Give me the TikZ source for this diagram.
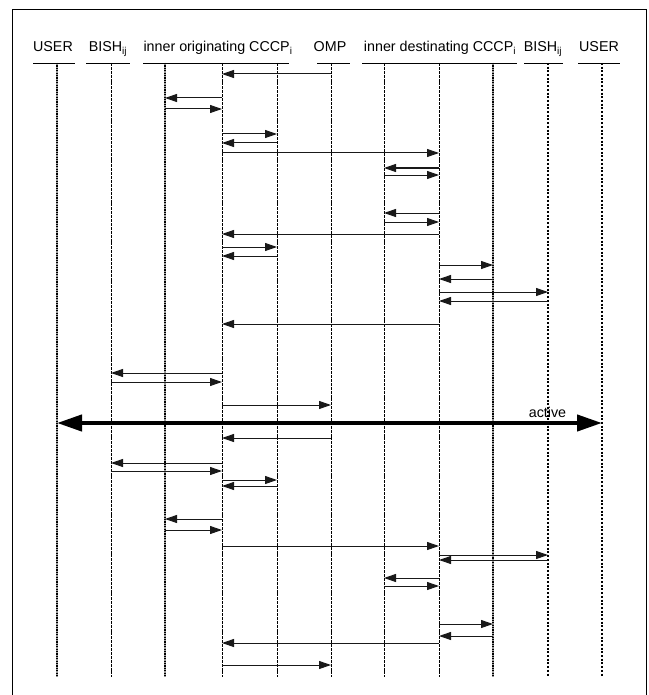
\documentclass[tikz,border=0pt]{standalone}
\usepackage{fontspec}
\setmainfont{Liberation Sans}
\usetikzlibrary{arrows.meta}
\begin{document}
\begin{tikzpicture}[x=1pt,y=-1pt,
  msg/.style={draw=black!90, line width=1pt, -{Triangle[length=12pt,width=8pt]}},
  bigmsg/.style={draw=black, line width=4.2pt, {Triangle[length=25pt,width=16pt]}-{Triangle[length=25pt,width=16pt]}},
  head/.style={anchor=base, inner sep=0pt, font=\fontsize{14.3}{16}\selectfont},
  hline/.style={line width=0.9pt},
  lgraybg/.style={line width=1.6pt, draw=black!40},
  lgray/.style={line width=1.6pt, draw=black, dash pattern=on 1.2pt off 1.2pt},
  lthin/.style={line width=1pt, draw=black, dash pattern=on 3pt off 0.9pt},
  lthick/.style={line width=2.2pt, draw=black, dash pattern=on 2pt off 1.7pt},
  frame/.style={line width=0.9pt}
]
\useasboundingbox (0,0) rectangle (648,695);
\draw[frame] (12,695) -- (12,9) -- (646,9) -- (646,695);

% headers
\node[head] (h1) at (53,52) {USER};
\node[head] (h2) at (108,52) {BISH\textsubscript{ij}};
\node[head] (h3) at (218,52) {inner originating CCCP\textsubscript{i}};
\node[head] (h4) at (330,52) {OMP};
\node[head] (h5) at (440,52) {inner destinating CCCP\textsubscript{i}};
\node[head] (h6) at (543,52) {BISH\textsubscript{ij}};
\node[head] (h7) at (599,52) {USER};

\draw[hline] (33,63) -- (75,63);
\draw[hline] (86,63) -- (130,63);
\draw[hline] (143,63) -- (289,63);
\draw[hline] (317,63) -- (350,63);
\draw[hline] (362,63) -- (517,63);
\draw[hline] (524,63) -- (563,63);
\draw[hline] (578,63) -- (620,63);

% lifelines
\coordinate (L1) at (57,63);
\coordinate (L2) at (111,63);
\coordinate (L3) at (165,63);
\coordinate (L4) at (222,63);
\coordinate (L5) at (277,63);
\coordinate (L6) at (331,63);
\coordinate (L7) at (384,63);
\coordinate (L8) at (439,63);
\coordinate (L9) at (493,63);
\coordinate (L10) at (548,63);
\coordinate (L11) at (602,63);

\foreach \k in {1,3,9}
  \draw[lgraybg] (L\k) -- (L\k |- 0,677);
\foreach \k/\s in {1/lgray,2/lthin,3/lgray,4/lthin,5/lthin,6/lthin,7/lthin,8/lthin,9/lgray,10/lthick,11/lthick}
  \draw[\s] (L\k) -- (L\k |- 0,677);

% messages
\foreach \a/\b/\y in {6/4/74, 4/3/98, 3/4/109, 4/5/134, 5/4/143, 4/8/153,
  8/7/168, 7/8/175, 8/7/213, 7/8/222, 8/4/234, 4/5/247, 5/4/256,
  8/9/265, 9/8/279, 8/10/292, 10/8/301, 8/4/324,
  4/2/373, 2/4/382, 4/6/405, 6/4/438, 4/2/463, 2/4/471, 4/5/480, 5/4/486,
  4/3/519, 3/4/530, 4/8/546, 8/10/555, 10/8/560, 8/7/578, 7/8/586,
  8/9/624, 9/8/636, 8/4/643, 4/6/665}
  \draw[msg] (L\a |- 0,\y) -- (L\b |- 0,\y);

\draw[bigmsg] (L1 |- 0,423) -- (L11 |- 0,423)
  node[pos=0.9, above=3pt, font=\fontsize{14.3}{16}\selectfont, inner sep=0pt] (act) {active};
\end{tikzpicture}
\end{document}
